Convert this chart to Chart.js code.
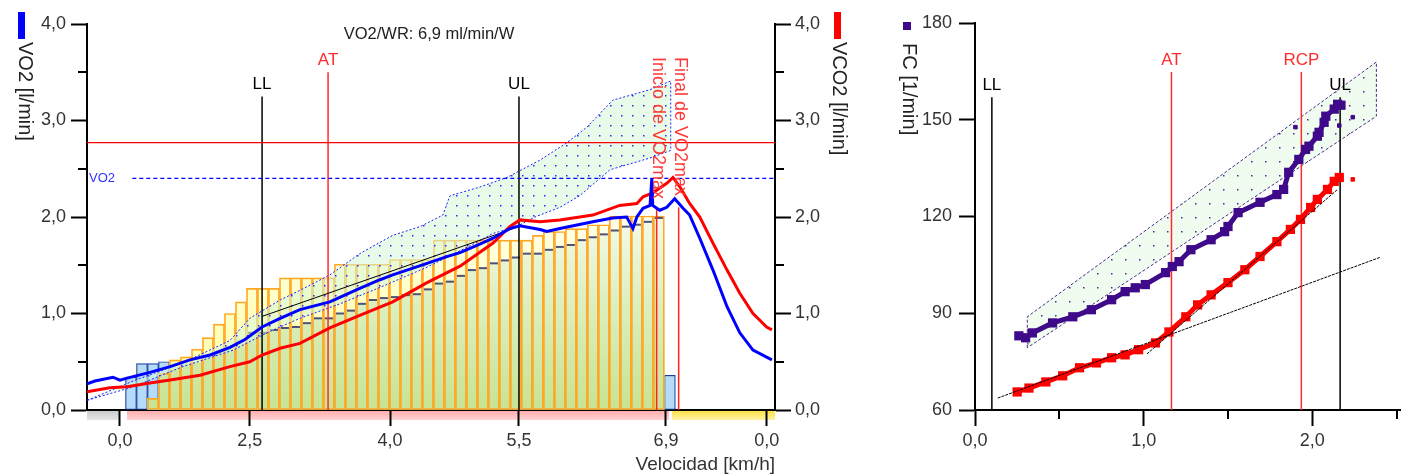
<!DOCTYPE html>
<html>
<head>
<meta charset="utf-8">
<title>VO2 / FC</title>
<script src="https://cdn.jsdelivr.net/npm/chart.js@4.4.1/dist/chart.umd.min.js"></script>
<style>
  body { margin: 0; background: #fff; }
  #wrap { position: relative; width: 1409px; height: 476px; overflow: hidden; }
  #leftChart { position: absolute; left: 0; top: 0; }
  #rightChart { position: absolute; left: 880px; top: 0; }
</style>
</head>
<body>
<div id="wrap">
  <canvas id="leftChart" width="880" height="476"></canvas>
  <canvas id="rightChart" width="529" height="476"></canvas>
</div>
<script>
const FONT = '"Liberation Sans", Arial, sans-serif';
Chart.defaults.font.family = FONT;
Chart.defaults.color = '#333';

// ---------- left chart: VO2 / VCO2 over time (min), labelled with speed ----------
const timeTicks = [0.75, 3.70, 6.89, 9.82, 13.16, 15.45];
const speedLabels = ['0,0', '2,5', '4,0', '5,5', '6,9', '0,0'];
const timeMax = 15.64;

const vo2Time = [0, 0.18, 0.59, 0.75, 0.91, 1.43, 1.89, 2.34, 2.80, 3.25, 3.59, 3.98, 4.39, 4.84, 5.52, 6.20, 6.66, 6.95, 7.41, 7.73,
  8.18, 8.48, 8.93, 9.23, 9.61, 9.84, 10.30, 10.45, 10.75, 11.50, 11.95, 12.27, 12.41, 12.50, 12.64, 12.80, 12.84, 12.86, 13.02, 13.18,
  13.36, 13.55, 13.70, 13.93, 14.23, 14.55, 14.84, 15.14, 15.57];
const vo2 = [0.27, 0.30, 0.34, 0.31, 0.33, 0.39, 0.45, 0.52, 0.57, 0.65, 0.73, 0.86, 0.95, 1.04, 1.12, 1.26, 1.35, 1.40, 1.47, 1.52,
  1.59, 1.63, 1.72, 1.78, 1.88, 1.91, 1.87, 1.85, 1.88, 1.95, 1.99, 2.00, 1.88, 2.00, 2.09, 2.12, 2.40, 2.12, 2.07, 2.10,
  2.19, 2.09, 2.02, 1.78, 1.45, 1.07, 0.80, 0.62, 0.52];

const vco2Time = [0, 0.52, 0.91, 1.43, 1.89, 2.57, 3.25, 3.70, 3.98, 4.39, 4.84, 5.52, 6.20, 6.95, 7.73, 8.48, 9.23, 9.61, 9.84, 10.30,
  10.75, 11.50, 12.11, 12.50, 12.64, 12.86, 13.18, 13.32, 13.48, 13.70, 13.93, 14.23, 14.55, 14.84, 15.14, 15.45, 15.57];
const vco2 = [0.19, 0.23, 0.24, 0.28, 0.31, 0.36, 0.45, 0.50, 0.57, 0.64, 0.69, 0.85, 0.98, 1.12, 1.32, 1.49, 1.73, 1.90, 1.97, 1.95,
  1.97, 2.02, 2.12, 2.14, 2.21, 2.25, 2.35, 2.41, 2.31, 2.14, 2.00, 1.73, 1.45, 1.21, 1.00, 0.86, 0.83];

// one step every 15 s, first one at 1.0 min
const stepTop = [null, null, 0.12, 0.38, 0.52, 0.55, 0.63, 0.75, 0.89, 1.00, 1.12, 1.26, 1.26, 1.26, 1.37, 1.37, 1.37, 1.37, 1.37, 1.51,
  1.51, 1.51, 1.51, 1.51, 1.56, 1.56, 1.56, 1.56, 1.76, 1.76, 1.76, 1.76, 1.76, 1.76, 1.76, 1.76, 1.76, 1.81, 1.85, 1.85,
  1.88, 1.88, 1.92, 1.92, 2.01, 2.01, 2.01, 2.01, 2.01, null];
const stepBase = [null, null, 0.12, 0.38, 0.45, 0.48, 0.50, 0.55, 0.62, 0.67, 0.73, 0.80, 0.80, 0.83, 0.85, 0.86, 0.90, 0.95, 0.95, 1.00,
  1.03, 1.10, 1.14, 1.16, 1.17, 1.19, 1.20, 1.25, 1.31, 1.33, 1.39, 1.45, 1.47, 1.52, 1.55, 1.58, 1.62, 1.62, 1.66, 1.69,
  1.71, 1.76, 1.79, 1.82, 1.86, 1.90, 1.92, 1.95, 1.99, null];
const warmBars = [0.34, 0.48, 0.48, 0.50, 0.50, 0.53, null, null, null, null, null, null, null, null, null, null, null, null, null, null,
  null, null, null, null, null, null, null, null, null, null, null, null, null, null, null, null, null, null, null, null,
  null, null, null, null, null, null, null, null, null, 0.36];

const bandTopTime = [0, 1.05, 2.23, 3.25, 3.70, 4.39, 4.84, 5.52, 6.20, 6.95, 7.57, 8.09, 8.25, 8.93, 9.55, 10.30, 10.91, 11.36, 11.95, 12.80, 13.27];
const bandTop = [0.10, 0.30, 0.50, 0.72, 0.95, 1.14, 1.24, 1.40, 1.62, 1.81, 1.90, 2.02, 2.22, 2.31, 2.41, 2.59, 2.77, 2.93, 3.21, 3.32, 3.41];
const bandLowTime = [0, 1.05, 2.18, 3.32, 4.09, 4.84, 5.75, 6.66, 7.73, 8.70, 9.23, 9.77, 10.18, 10.75, 11.20, 11.89, 12.86, 13.27];
const bandLow = [0.10, 0.24, 0.45, 0.62, 0.80, 0.95, 1.10, 1.27, 1.48, 1.70, 1.83, 1.90, 2.00, 2.10, 2.22, 2.49, 2.62, 2.69];

const fitTime = [3.98, 9.75];
const fitVo2 = [0.97, 1.89];

const markerNames = ['LL', 'AT', 'UL'];
const markerTime = [3.98, 5.48, 9.82];
const markerTop = [3.25, 3.5, 3.25];
const markerColors = ['#000', '#ff2a2a', '#000'];

const vo2maxNames = ['Inicio de VO2max', 'Final de VO2max'];
const vo2maxTime = [12.95, 13.45];
const vo2maxLineTop = 2.1;

const vo2Peak = 2.77;
const vo2Ref = 2.40;
const vo2RefStart = 1.03;

const phaseFrom = [0, 0.91, 13.3];
const phaseTo = [0.75, 13.23, 15.64];
const phaseColors = [['#c8c8c8', '#e6e6e6'], ['#ffa9a9', '#ffd2d2'], ['#ffe03c', '#fff3a8']];

// ---------- right chart: FC against VO2 ----------
const hrVo2 = [0.26, 0.30, 0.34, 0.46, 0.58, 0.69, 0.81, 0.89, 0.95, 1.01, 1.13, 1.17, 1.21, 1.28, 1.40, 1.48, 1.50, 1.56, 1.69, 1.79,
  1.83, 1.86, 1.92, 1.96, 1.98, 2.03, 2.04, 2.07, 2.08, 2.13, 2.15, 2.17];
const hr = [83.0, 82.4, 83.9, 87.0, 88.9, 91.1, 94.2, 96.7, 97.9, 98.9, 102.6, 104.5, 106.0, 109.7, 112.8, 115.3, 116.9, 121.2, 124.4, 126.8,
  128.4, 133.7, 137.7, 140.8, 141.8, 144.9, 146.1, 149.2, 151.1, 153.3, 154.8, 154.5];
const hrOutVo2 = [1.90, 2.16, 2.24];
const hrOut = [147.7, 148.2, 150.8];

const redVo2 = [0.25, 0.32, 0.42, 0.52, 0.62, 0.72, 0.81, 0.89, 0.97, 1.07, 1.15, 1.25, 1.32, 1.40, 1.50, 1.60, 1.69, 1.79, 1.87, 1.93,
  1.99, 2.03, 2.09, 2.13, 2.16];
const redVal = [65.6, 66.8, 68.7, 70.6, 73.1, 74.6, 76.2, 77.1, 78.7, 80.8, 84.2, 88.9, 92.6, 95.7, 99.5, 103.5, 107.6, 112.2, 116.0, 119.1,
  122.8, 125.3, 128.4, 130.9, 132.1];
const redOutVo2 = [2.24];
const redOut = [131.5];

const slope1Vo2 = [0.135, 2.40];
const slope1 = [63.7, 107.3];
const slope2Vo2 = [1.02, 2.15];
const slope2 = [77.4, 128.4];

const hrBandVo2 = [0.31, 0.31, 2.38, 2.38, 0.31];
const hrBand = [79.3, 88.9, 167.9, 151.1, 79.3];

const hrMarkerNames = ['LL', 'AT', 'RCP', 'UL'];
const hrMarkerVo2 = [0.10, 1.165, 1.935, 2.165];
const hrMarkerTop = [157, 164.8, 164.8, 157];
const hrMarkerColors = ['#000', '#ff2a2a', '#ff2a2a', '#000'];

// ---------- helpers ----------
function xy(xs, ys) {
  return xs.map((x, i) => ({ x: x, y: ys[i] }));
}

function dotPattern(w, h, bg, dot) {
  const c = document.createElement('canvas');
  c.width = w; c.height = h;
  const g = c.getContext('2d');
  g.fillStyle = bg;
  g.fillRect(0, 0, w, h);
  g.fillStyle = dot;
  g.fillRect(Math.floor(w / 2), Math.floor(h / 2), 1.5, 1.5);
  return g.createPattern(c, 'repeat');
}

function vGradient(stops, topValue) {
  return (context) => {
    const chart = context.chart;
    if (!chart.chartArea) return stops[0][1];
    const y = chart.scales.y;
    const g = chart.ctx.createLinearGradient(0, y.getPixelForValue(0), 0, y.getPixelForValue(topValue));
    stops.forEach(s => g.addColorStop(s[0], s[1]));
    return g;
  };
}

function rotText(ctx, text, cx, top, color, size) {
  ctx.save();
  ctx.translate(cx, top);
  ctx.rotate(Math.PI / 2);
  ctx.font = size + 'px ' + FONT;
  ctx.fillStyle = color;
  ctx.textAlign = 'left';
  ctx.textBaseline = 'middle';
  ctx.fillText(text, 0, 0);
  ctx.restore();
}

const fmt1 = v => v.toFixed(1).replace('.', ',');

// short ticks between the labelled ones
const minorTicks = {
  id: 'minorTicks',
  afterDraw(chart, args, opts) {
    const ctx = chart.ctx;
    ctx.save();
    ctx.strokeStyle = '#000';
    ctx.lineWidth = 2;
    (opts.list || []).forEach(m => {
      const s = chart.scales[m.axis];
      m.values.forEach(v => {
        const p = Math.round(s.getPixelForValue(v));
        ctx.beginPath();
        if (s.isHorizontal()) {
          ctx.moveTo(p, s.top); ctx.lineTo(p, s.top + m.len);
        } else if (s.position === 'left') {
          ctx.moveTo(s.right, p); ctx.lineTo(s.right - m.len, p);
        } else {
          ctx.moveTo(s.left, p); ctx.lineTo(s.left + m.len, p);
        }
        ctx.stroke();
      });
    });
    ctx.restore();
  }
};

function axisOpts(extra) {
  return Object.assign({
    grid: { drawOnChartArea: false, drawTicks: true, offset: false, tickLength: 16, tickColor: '#000', tickWidth: 2 },
    border: { display: true, color: '#000', width: 2 },
  }, extra);
}

// ---------- left chart ----------
const barTimes = stepTop.map((_, i) => 1.0 + i * 0.25);
function barsFrom(fn) {
  return barTimes.map((t, i) => {
    const v = fn(i);
    return v == null ? null : { x: t, y: v };
  }).filter(Boolean);
}

const leftPattern = dotPattern(11, 10, 'rgba(214, 247, 214, 0.55)', '#2a2aff');
const barCommon = { grouped: false, barPercentage: 1, categoryPercentage: 1 };

const leftDatasets = [
  { type: 'line', label: 'VO2', data: xy(vo2Time, vo2), borderColor: '#0000ff', borderWidth: 3, pointRadius: 0, order: 1 },
  { type: 'line', label: 'VCO2', data: xy(vco2Time, vco2), borderColor: '#ff0000', borderWidth: 3, pointRadius: 0, order: 2 },
  { type: 'line', data: xy(fitTime, fitVo2), borderColor: '#000', borderWidth: 1, pointRadius: 0, order: 3 },
  { type: 'line', data: [{ x: 0, y: vo2Peak }, { x: timeMax, y: vo2Peak }], borderColor: '#ff0000', borderWidth: 1.3, pointRadius: 0, order: 4 },
  { type: 'line', data: [{ x: vo2RefStart, y: vo2Ref }, { x: timeMax, y: vo2Ref }], borderColor: '#0000ff', borderWidth: 1.2,
    borderDash: [4, 3], pointRadius: 0, order: 4 },
];
markerNames.forEach((n, i) => {
  leftDatasets.push({ type: 'line', data: [{ x: markerTime[i], y: 0 }, { x: markerTime[i], y: markerTop[i] }],
    borderColor: markerColors[i], borderWidth: 1.5, pointRadius: 0, order: 4 });
});
vo2maxTime.forEach(t => {
  leftDatasets.push({ type: 'line', data: [{ x: t, y: 0 }, { x: t, y: vo2maxLineTop }],
    borderColor: '#ff2020', borderWidth: 1.5, pointRadius: 0, order: 4 });
});
leftDatasets.push(
  { type: 'line', data: xy(bandTopTime, bandTop).concat(xy(bandLowTime, bandLow).reverse()), borderColor: '#2020ff', borderWidth: 1,
    borderDash: [2, 2], pointRadius: 0, fill: 'shape', backgroundColor: leftPattern, order: 5 },
  { type: 'scatter', data: barsFrom(i => (i >= 11 && stepBase[i] != null) ? stepBase[i] : null), pointStyle: 'line', pointRadius: 4,
    borderColor: '#4c5278', borderWidth: 2, order: 6 },
  Object.assign({ type: 'bar', data: barsFrom(i => stepTop[i] == null ? null : [0, stepTop[i]]), backgroundColor: 'rgba(0,0,0,0)',
    borderColor: '#ffa623', borderWidth: 1, borderSkipped: false, order: 7 }, barCommon),
  Object.assign({ type: 'bar', data: barsFrom(i => stepTop[i] == null ? null : [stepBase[i], stepTop[i]]), borderWidth: 0, order: 8,
    backgroundColor: vGradient([[0, '#ffffa6'], [0.55, '#ffffc8'], [1, '#fffff4']], 2.2) }, barCommon),
  Object.assign({ type: 'bar', data: barsFrom(i => stepBase[i] == null ? null : [0, stepBase[i]]), borderWidth: 0, order: 9,
    backgroundColor: vGradient([[0, '#c7e392'], [0.5, '#dcefbf'], [1, '#f9fdf4']], 2.2) }, barCommon),
  Object.assign({ type: 'bar', data: barsFrom(i => warmBars[i] == null ? null : [0, warmBars[i]]), backgroundColor: '#b4dbf8',
    borderColor: '#1f3fa0', borderWidth: 1.2, borderSkipped: false, order: 10 }, barCommon)
);

const leftDecor = {
  id: 'leftDecor',
  beforeDraw(chart) {
    const { ctx, chartArea } = chart;
    const x = chart.scales.x;
    ctx.save();
    phaseFrom.forEach((f, i) => {
      const x0 = x.getPixelForValue(f), x1 = x.getPixelForValue(phaseTo[i]);
      const g = ctx.createLinearGradient(0, chartArea.bottom, 0, chartArea.bottom + 10);
      g.addColorStop(0, phaseColors[i][0]);
      g.addColorStop(1, phaseColors[i][1]);
      ctx.fillStyle = g;
      ctx.fillRect(x0, chartArea.bottom + 1, x1 - x0, 9);
    });
    ctx.restore();
  },
  afterDraw(chart) {
    const ctx = chart.ctx;
    const x = chart.scales.x, y = chart.scales.y;
    ctx.save();
    ctx.textAlign = 'center';
    ctx.textBaseline = 'middle';
    ctx.font = '16.5px ' + FONT;
    ctx.fillStyle = '#222';
    ctx.fillText('VO2/WR: 6,9 ml/min/W', 429, 34);
    ctx.font = '17px ' + FONT;
    markerNames.forEach((n, i) => {
      ctx.fillStyle = markerColors[i];
      ctx.fillText(n, x.getPixelForValue(markerTime[i]), y.getPixelForValue(markerTop[i]) - 12);
    });
    ctx.font = '13px ' + FONT;
    ctx.fillStyle = '#3030ff';
    ctx.textAlign = 'left';
    ctx.fillText('VO2', x.left + 2, y.getPixelForValue(vo2Ref));
    vo2maxNames.forEach((n, i) => rotText(ctx, n, x.getPixelForValue(vo2maxTime[i]) + 1, 57, '#ff3838', 18));
    rotText(ctx, 'VO2 [l/min]', 25, 42, '#222', 20);
    rotText(ctx, 'VCO2 [l/min]', 839, 42, '#222', 20);
    ctx.fillStyle = '#0000ff';
    ctx.fillRect(18, 12, 7, 27);
    ctx.fillStyle = '#ff0000';
    ctx.fillRect(834, 12, 7, 27);
    ctx.restore();
  }
};

new Chart(document.getElementById('leftChart'), {
  type: 'bar',
  data: { datasets: leftDatasets },
  options: {
    responsive: false,
    animation: false,
    devicePixelRatio: 1,
    layout: { padding: { top: 24, left: 0, right: 0, bottom: 0 } },
    plugins: {
      legend: { display: false },
      tooltip: { enabled: false },
      minorTicks: { list: [
        { axis: 'y', values: [0.5, 1.5, 2.5, 3.5], len: 9 },
        { axis: 'y2', values: [0.5, 1.5, 2.5, 3.5], len: 9 }
      ] }
    },
    scales: {
      x: axisOpts({
        type: 'linear', min: 0, max: timeMax, offset: false,
        afterBuildTicks: s => { s.ticks = timeTicks.map(v => ({ value: v })); },
        afterFit: s => { s.height = 66; },
        ticks: { callback: (v, i) => speedLabels[i], font: { size: 18 }, color: '#333', padding: 4, maxRotation: 0, autoSkip: false },
        title: { display: true, text: 'Velocidad [km/h]', align: 'end', font: { size: 19 }, color: '#333', padding: 0 }
      }),
      y: axisOpts({
        position: 'left', min: 0, max: 4,
        afterBuildTicks: s => { s.ticks = [0, 1, 2, 3, 4].map(v => ({ value: v })); },
        afterFit: s => { s.width = 87; },
        ticks: { callback: v => fmt1(v), font: { size: 18 }, color: '#333', padding: 5 }
      }),
      y2: axisOpts({
        position: 'right', min: 0, max: 4,
        afterBuildTicks: s => { s.ticks = [0, 1, 2, 3, 4].map(v => ({ value: v })); },
        afterFit: s => { s.width = 105; },
        ticks: { callback: v => fmt1(v), font: { size: 18 }, color: '#333', padding: 4 }
      })
    }
  },
  plugins: [minorTicks, leftDecor]
});

// ---------- right chart ----------
const rightPattern = dotPattern(14, 14, '#effcef', '#4b2a8c');

const rightDatasets = [
  { data: xy(slope1Vo2, slope1), showLine: true, borderColor: '#000', borderWidth: 1, borderDash: [3, 1], pointRadius: 0, order: 1 },
  { data: xy(slope2Vo2, slope2), showLine: true, borderColor: '#000', borderWidth: 1, borderDash: [3, 1], pointRadius: 0, order: 1 },
  { data: xy(redVo2, redVal), showLine: true, borderColor: '#ff0000', borderWidth: 5, pointStyle: 'rect', pointRadius: 3,
    backgroundColor: '#ff0000', order: 2 },
  { data: xy(redOutVo2, redOut), pointStyle: 'rect', pointRadius: 2.5, backgroundColor: '#ff0000', borderColor: '#ff0000', order: 2 },
  { data: xy(hrVo2, hr), showLine: true, borderColor: '#3f0a8a', borderWidth: 5, pointStyle: 'rect', pointRadius: 3,
    backgroundColor: '#3f0a8a', order: 3 },
  { data: xy(hrOutVo2, hrOut), pointStyle: 'rect', pointRadius: 2.5, backgroundColor: '#3f0a8a', borderColor: '#3f0a8a', order: 3 },
];
hrMarkerNames.forEach((n, i) => {
  rightDatasets.push({ data: [{ x: hrMarkerVo2[i], y: 60 }, { x: hrMarkerVo2[i], y: hrMarkerTop[i] }], showLine: true,
    borderColor: hrMarkerColors[i], borderWidth: 1.5, pointRadius: 0, order: 4 });
});
rightDatasets.push({ data: xy(hrBandVo2, hrBand), showLine: true, borderColor: '#4b2a8c', borderWidth: 1, borderDash: [3, 2],
  pointRadius: 0, fill: 'shape', backgroundColor: rightPattern, order: 5 });

const rightDecor = {
  id: 'rightDecor',
  afterDraw(chart) {
    const ctx = chart.ctx;
    const x = chart.scales.x, y = chart.scales.y;
    ctx.save();
    ctx.textAlign = 'center';
    ctx.textBaseline = 'middle';
    ctx.font = '17px ' + FONT;
    hrMarkerNames.forEach((n, i) => {
      ctx.fillStyle = hrMarkerColors[i];
      ctx.fillText(n, x.getPixelForValue(hrMarkerVo2[i]), y.getPixelForValue(hrMarkerTop[i]) - 12);
    });
    rotText(ctx, 'FC [1/min]', 29, 43, '#222', 20);
    ctx.fillStyle = '#3f0a8a';
    ctx.fillRect(23, 22, 8, 8);
    ctx.restore();
  }
};

new Chart(document.getElementById('rightChart'), {
  type: 'scatter',
  data: { datasets: rightDatasets },
  options: {
    responsive: false,
    animation: false,
    devicePixelRatio: 1,
    layout: { padding: { top: 23, left: 0, right: 6, bottom: 0 } },
    plugins: {
      legend: { display: false },
      tooltip: { enabled: false },
      minorTicks: { list: [{ axis: 'x', values: [0.5, 1.5, 2.5], len: 9 }] }
    },
    scales: {
      x: axisOpts({
        type: 'linear', min: 0, max: 2.52,
        afterBuildTicks: s => { s.ticks = [0, 1, 2].map(v => ({ value: v })); },
        afterFit: s => { s.height = 66; },
        ticks: { callback: v => fmt1(v), font: { size: 18 }, color: '#333', padding: 4, maxRotation: 0 }
      }),
      y: axisOpts({
        type: 'linear', min: 60, max: 180,
        afterBuildTicks: s => { s.ticks = [60, 90, 120, 150, 180].map(v => ({ value: v })); },
        afterFit: s => { s.width = 95; },
        ticks: { callback: v => String(v), font: { size: 18 }, color: '#333', padding: 7 }
      })
    }
  },
  plugins: [minorTicks, rightDecor]
});
</script>
</body>
</html>
